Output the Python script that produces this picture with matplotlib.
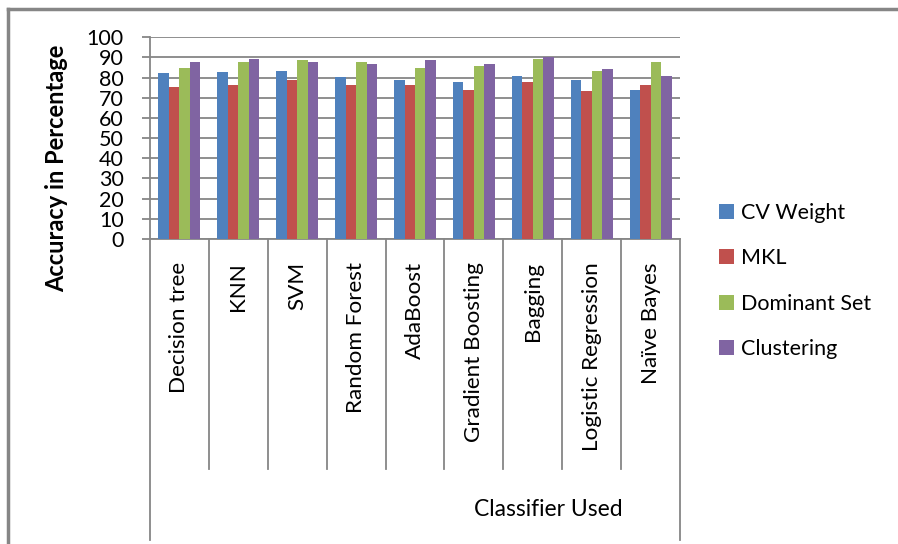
import matplotlib
matplotlib.use("Agg")
import matplotlib.pyplot as plt
import matplotlib.transforms as mtransforms
import numpy as np

# Accuracy (%) of each classifier under four combination schemes
classifiers = ["Decision tree", "KNN", "SVM", "Random Forest", "AdaBoost",
               "Gradient Boosting", "Bagging", "Logistic Regression", "Naïve Bayes"]
cv_weight = [82.2, 82.7, 83.2, 80.1, 78.8, 77.8, 80.7, 78.8, 73.8]
mkl = [75.3, 76.2, 78.8, 76.2, 76.2, 73.8, 77.8, 73.3, 76.2]
dominant_set = [84.7, 87.7, 88.7, 87.7, 84.7, 85.7, 89.2, 83.2, 87.7]
clustering = [87.7, 89.4, 87.7, 86.7, 88.7, 86.7, 90.2, 84.2, 80.7]

series_names = ["CV Weight", "MKL", "Dominant Set", "Clustering"]
series_values = [cv_weight, mkl, dominant_set, clustering]
colors = ["#4F81BD", "#C0504D", "#9BBB59", "#8064A2"]
y_ticks = [0, 10, 20, 30, 40, 50, 60, 70, 80, 90, 100]

plt.rcParams["font.family"] = ["Lato", "DejaVu Sans"]

W, H = 898, 544
fig = plt.figure(figsize=(W / 100, H / 100), dpi=100)

# plot area in pixel terms
left, right, top, bottom = 150, 680, 37.3, 239
ax = fig.add_axes([left / W, 1 - bottom / H, (right - left) / W, (bottom - top) / H])

x = np.arange(len(classifiers))
bar_w = 0.178
for k, (name, vals, c) in enumerate(zip(series_names, series_values, colors)):
    ax.bar(x + (k - 1.5) * bar_w, vals, width=bar_w, color=c, label=name, zorder=3)

ax.set_xlim(-0.5, len(classifiers) - 0.5)
ax.set_ylim(0, 100)
ax.set_yticks(y_ticks)
ax.yaxis.grid(True, color="#868686", linewidth=1.3, zorder=0)
ax.set_xticks([])
for s in ["top", "right"]:
    ax.spines[s].set_visible(False)
for s in ["left", "bottom"]:
    ax.spines[s].set_color("#868686")
    ax.spines[s].set_linewidth(1.3)
ax.tick_params(axis="y", direction="out", length=6, width=1.3, color="#868686",
               pad=13, labelsize=15.5, labelcolor="black")

# category separators below the axis
blend = mtransforms.blended_transform_factory(ax.transData, ax.transAxes)
inner_y = -(469 - bottom) / (bottom - top)
outer_y = -(540 - bottom) / (bottom - top)
for b in np.arange(0.5, len(classifiers) - 1, 1.0):
    ax.plot([b, b], [0, inner_y], color="#868686", lw=1.3, transform=blend, clip_on=False)
for b in [-0.5, len(classifiers) - 0.5]:
    ax.plot([b, b], [0, outer_y], color="#868686", lw=1.3, transform=blend, clip_on=False)

label_y = -(262 - bottom) / (bottom - top)
for i, name in enumerate(classifiers):
    ax.text(i, label_y, name, rotation=90, ha="center", va="top",
            fontsize=16.2, transform=blend)

fig.text(548 / W, 1 - 510 / H, "Classifier Used", ha="center", va="center", fontsize=16.5)
fig.text(57 / W, 1 - 168 / H, "Accuracy in Percentage", rotation=90,
         ha="center", va="center", fontsize=17, fontweight="bold")

# chart frame
fig.add_artist(plt.Line2D([8 / W, 8 / W], [0, 1 - 9 / H], color="#868686", lw=2.5))
fig.add_artist(plt.Line2D([8 / W, 1], [1 - 9 / H, 1 - 9 / H], color="#868686", lw=2.5))

fig.legend(loc="upper left", bbox_to_anchor=(719 / W, 1 - 203 / H), frameon=False,
           fontsize=15.5, handlelength=0.68, handleheight=0.68, handletextpad=0.35,
           labelspacing=1.18, borderpad=0, borderaxespad=0)

fig.savefig("out.png", dpi=100)
